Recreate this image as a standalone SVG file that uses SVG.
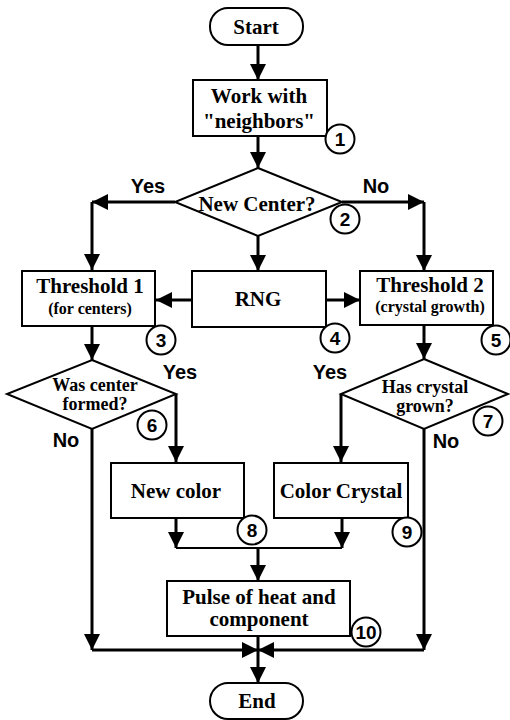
<svg xmlns="http://www.w3.org/2000/svg" width="510" height="720" viewBox="0 0 510 720">
<defs>
<style>
.box{fill:#fff;stroke:#000;stroke-width:2}
.t{font-family:"Liberation Serif","Times New Roman",serif;font-weight:bold;font-size:21px;text-anchor:middle;fill:#000}
.ts{font-size:16px}
.tm{font-size:18px}
.lbl{font-family:"Liberation Sans",Arial,sans-serif;font-weight:bold;font-size:20px;text-anchor:middle;fill:#000}
.num circle{fill:#fff;stroke:#000;stroke-width:2}
.num text{font-family:"Liberation Sans",Arial,sans-serif;font-weight:bold;font-size:19px;text-anchor:middle;fill:#000}
.c{fill:none;stroke:#000;stroke-width:3}
.thin{stroke-width:2}
</style>
<marker id="ah" viewBox="0 0 16 16" refX="16" refY="8" markerWidth="16" markerHeight="16" markerUnits="userSpaceOnUse" orient="auto">
<path d="M0,0 L16,8 L0,16 Z" fill="#000"/>
</marker>
</defs>
<rect width="510" height="720" fill="#fff"/>

<g id="connectors">
<path class="c" d="M258,45 V80" marker-end="url(#ah)"/>
<path class="c" d="M258,136 V168" marker-end="url(#ah)"/>
<path class="c" d="M175,202 H92" marker-end="url(#ah)"/>
<path class="c" d="M92,202 V270" marker-end="url(#ah)"/>
<path class="c" d="M342,202 H424" marker-end="url(#ah)"/>
<path class="c" d="M424,202 V271" marker-end="url(#ah)"/>
<path class="c" d="M258,236 V271" marker-end="url(#ah)"/>
<path class="c" d="M192,300 H156" marker-end="url(#ah)"/>
<path class="c" d="M326,300 H360" marker-end="url(#ah)"/>
<path class="c" d="M92,326 V360" marker-end="url(#ah)"/>
<path class="c" d="M424,325 V359" marker-end="url(#ah)"/>
<path class="c" d="M176,394 V462" marker-end="url(#ah)"/>
<path class="c" d="M341,394 V462" marker-end="url(#ah)"/>
<path class="c" d="M92,429 V650" marker-end="url(#ah)"/>
<path class="c" d="M92,650 H258" marker-end="url(#ah)"/>
<path class="c" d="M424,429 V650" marker-end="url(#ah)"/>
<path class="c" d="M424,650 H258" marker-end="url(#ah)"/>
<path class="c" d="M176,518 V548" marker-end="url(#ah)"/>
<path class="c" d="M342,518 V548" marker-end="url(#ah)"/>
<path class="c thin" d="M176,548 H342"/>
<path class="c" d="M258,548 V581" marker-end="url(#ah)"/>
<path class="c" d="M258,636 V683" marker-end="url(#ah)"/>
</g>

<g id="start">
<rect class="box" x="210" y="8" width="93" height="37" rx="18"/>
<text class="t" x="256" y="34">Start</text>
</g>
<g id="work">
<rect class="box" x="193" y="80" width="134" height="56"/>
<text class="t" x="259" y="103">Work with</text>
<text class="t" x="259" y="128">"neighbors"</text>
</g>
<g id="newcenter">
<polygon class="box" points="258,168 342,202 258,236 175,202"/>
<text class="t" x="257" y="211">New Center?</text>
</g>
<g id="threshold1">
<rect class="box" x="22" y="271" width="133" height="55"/>
<text class="t" x="90" y="293">Threshold 1</text>
<text class="t ts" x="90" y="314">(for centers)</text>
</g>
<g id="rng">
<rect class="box" x="192" y="271" width="134" height="56"/>
<text class="t" x="258" y="306">RNG</text>
</g>
<g id="threshold2">
<rect class="box" x="360" y="271" width="133" height="54"/>
<text class="t" x="430" y="292">Threshold 2</text>
<text class="t ts" x="430" y="312">(crystal growth)</text>
</g>
<g id="centerformed">
<polygon class="box" points="92,360 176,394 92,429 7,394"/>
<text class="t tm" x="95" y="391">Was center</text>
<text class="t tm" x="95" y="410">formed?</text>
</g>
<g id="crystalgrown">
<polygon class="box" points="424,359 508,394 424,429 341,394"/>
<text class="t tm" x="425" y="393">Has crystal</text>
<text class="t tm" x="425" y="412">grown?</text>
</g>
<g id="newcolor">
<rect class="box" x="111" y="463" width="133" height="55"/>
<text class="t" x="176" y="498">New color</text>
</g>
<g id="colorcrystal">
<rect class="box" x="274" y="463" width="134" height="55"/>
<text class="t" x="341" y="498">Color Crystal</text>
</g>
<g id="pulse">
<rect class="box" x="167" y="581" width="183" height="55"/>
<text class="t" x="259" y="604">Pulse of heat and</text>
<text class="t" x="259" y="626">component</text>
</g>
<g id="end">
<rect class="box" x="210" y="683" width="93" height="36" rx="18"/>
<text class="t" x="257" y="708">End</text>
</g>

<g id="labels">
<text class="lbl" x="148" y="193">Yes</text>
<text class="lbl" x="376" y="193">No</text>
<text class="lbl" x="180" y="379">Yes</text>
<text class="lbl" x="330" y="379">Yes</text>
<text class="lbl" x="66" y="447">No</text>
<text class="lbl" x="446" y="448">No</text>
</g>

<g id="numbers" class="num">
<g id="n1"><circle cx="340" cy="139" r="14.5"/><text x="340" y="146">1</text></g>
<g id="n2"><circle cx="345" cy="219" r="14.5"/><text x="345" y="226">2</text></g>
<g id="n3"><circle cx="161" cy="340" r="14.5"/><text x="161" y="347">3</text></g>
<g id="n4"><circle cx="335" cy="338" r="14.5"/><text x="335" y="345">4</text></g>
<g id="n5"><circle cx="496" cy="340" r="14.5"/><text x="496" y="347">5</text></g>
<g id="n6"><circle cx="152" cy="425" r="14.5"/><text x="152" y="432">6</text></g>
<g id="n7"><circle cx="488" cy="421" r="14.5"/><text x="488" y="428">7</text></g>
<g id="n8"><circle cx="252" cy="530" r="14.5"/><text x="252" y="537">8</text></g>
<g id="n9"><circle cx="407" cy="532" r="14.5"/><text x="407" y="539">9</text></g>
<g id="n10"><circle cx="366" cy="632" r="14.5"/><text x="366" y="639">10</text></g>
</g>
</svg>
